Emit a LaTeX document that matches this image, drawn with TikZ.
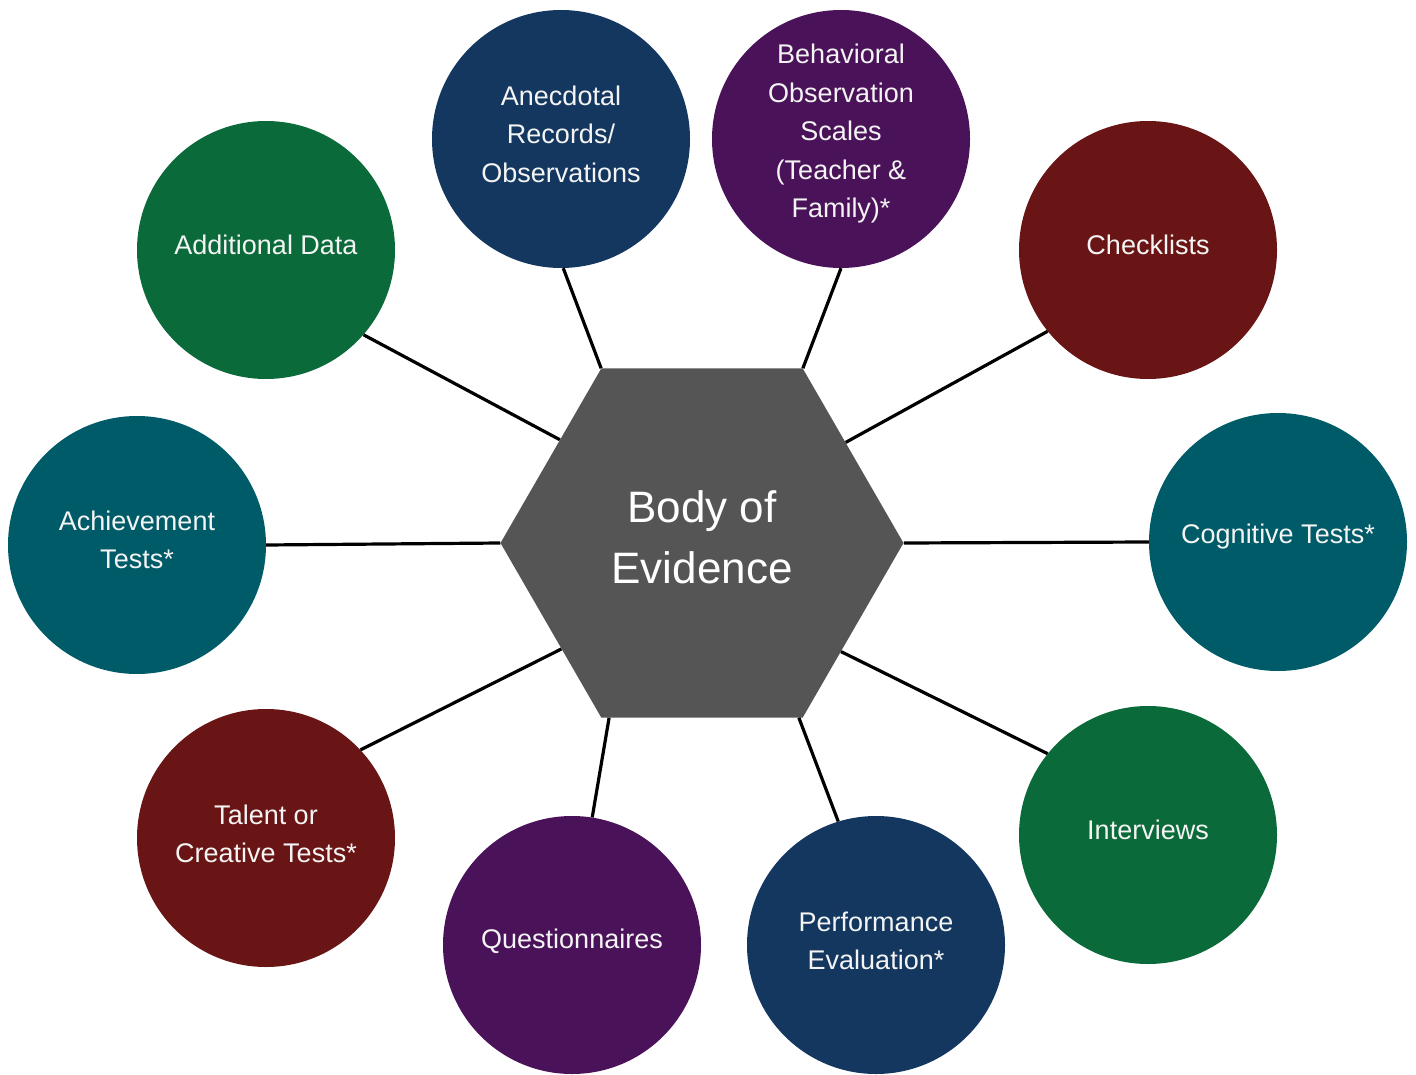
\documentclass[tikz,border=0pt]{standalone}
\usepackage{fontspec}
\setmainfont{Liberation Sans}
\usetikzlibrary{shapes.geometric}
\definecolor{cgreen}{HTML}{0A6A3A}
\definecolor{cnavy}{HTML}{14375F}
\definecolor{cpurple}{HTML}{4A1258}
\definecolor{cred}{HTML}{6A1515}
\definecolor{cteal}{HTML}{005B69}
\definecolor{cgray}{HTML}{555555}
\definecolor{ctext}{HTML}{F4F4F4}
\tikzset{
  bubble/.style={circle, minimum size=258pt, inner sep=0pt},
  lbl/.style={inner sep=0pt, text=ctext, align=center,
    font=\fontsize{27}{38.5}\selectfont},
  hexa/.style={regular polygon, regular polygon sides=6, shape border rotate=0,
    minimum size=403pt, inner sep=0pt, fill=cgray},
  hexlbl/.style={inner sep=0pt, text=white, align=center,
    font=\fontsize{44}{61}\selectfont},
  link/.style={draw=black, line width=3.2pt}
}
\begin{document}
\begin{tikzpicture}[x=1pt,y=-1pt]
\useasboundingbox (0,0) rectangle (1416,1075);
\node[hexa] (hex) at (702,543) {};
\node[hexlbl] (hexT) at (702,537) {Body of\\Evidence};
\node[bubble, fill=cgreen] (add) at (266,250) {};
\node[bubble, fill=cnavy] (anec) at (561,139) {};
\node[bubble, fill=cpurple] (beh) at (841,139) {};
\node[bubble, fill=cred] (check) at (1148,250) {};
\node[bubble, fill=cteal] (cog) at (1278,542) {};
\node[bubble, fill=cgreen] (inter) at (1148,835) {};
\node[bubble, fill=cnavy] (perf) at (876,945) {};
\node[bubble, fill=cpurple] (quest) at (572,945) {};
\node[bubble, fill=cred] (tal) at (266,838) {};
\node[bubble, fill=cteal] (ach) at (137,545) {};
\node[lbl] (addT) at (266,245) {Additional Data};
\node[lbl] (anecT) at (561,134) {Anecdotal\\Records/\\Observations};
\node[lbl] (behT) at (841,134) {Behavioral\\Observation\\Scales\\(Teacher \&\\Family)*};
\node[lbl] (checkT) at (1148,245) {Checklists};
\node[lbl] (cogT) at (1278,537) {Cognitive Tests*};
\node[lbl] (interT) at (1148,830) {Interviews};
\node[lbl] (perfT) at (876,941) {Performance\\Evaluation*};
\node[lbl] (questT) at (572,941) {Questionnaires};
\node[lbl] (talT) at (266,834) {Talent or\\Creative Tests*};
\node[lbl] (achT) at (137,540) {Achievement\\Tests*};
\draw[link] (add.-41) -- (hex.144.4);
\draw[link] (anec.-89) -- (hex.120.7);
\draw[link] (beh.-90) -- (hex.60.3);
\draw[link] (check.219) -- (hex.35.6);
\draw[link] (cog.180) -- (hex.0);
\draw[link] (inter.141) -- (hex.-38.5);
\draw[link] (perf.107) -- (hex.-61.3);
\draw[link] (quest.81) -- (hex.-118.9);
\draw[link] (tal.43) -- (hex.-143.8);
\draw[link] (ach.0) -- (hex.180);
\end{tikzpicture}
\end{document}
